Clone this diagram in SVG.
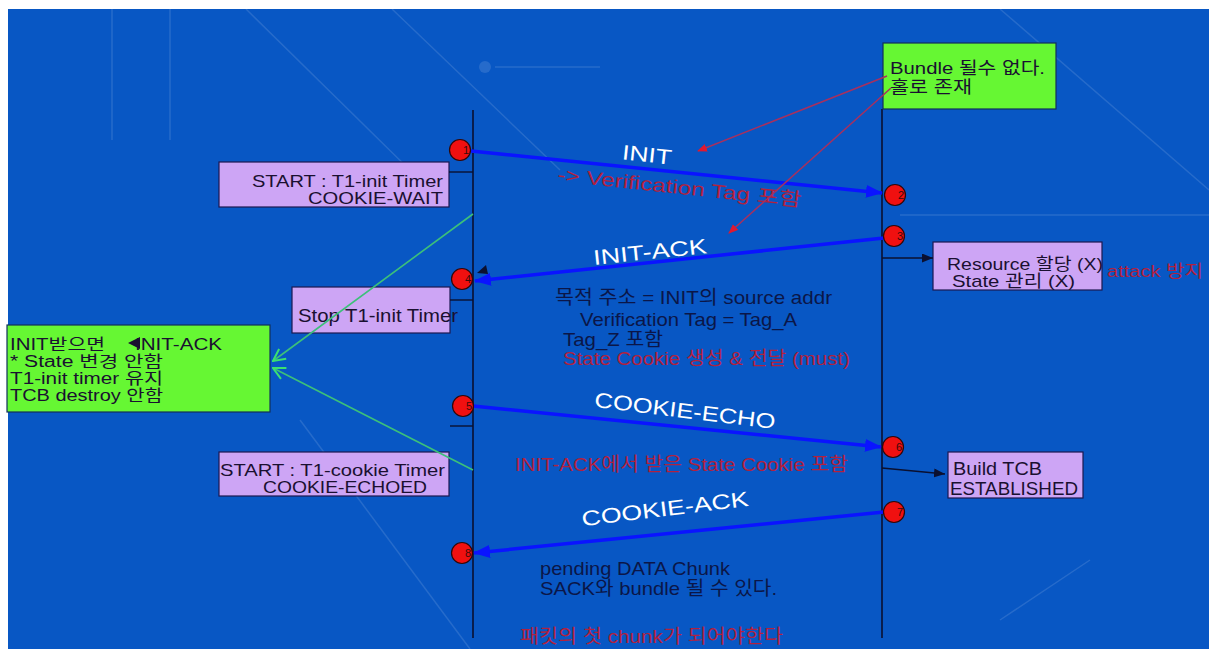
<svg xmlns="http://www.w3.org/2000/svg" width="1209" height="649" viewBox="0 0 1209 649">
<style>
  .t { font-family: "Liberation Sans", "Noto Sans CJK KR", sans-serif; font-size: 19px; }
  .s { font-size: 16px; }
  .m { font-size: 17px; }
  .box { fill: #cda5f5; stroke: #1c1850; stroke-width: 1.2; }
  .gbox { fill: #66f733; stroke: #12305a; stroke-width: 1.2; }
  .dark { fill: #1a1030; }
  .navy { fill: #0b1648; }
  .red { fill: #b2213e; }
  .white { fill: #ffffff; font-size: 21px; }
  .life { stroke: #0b1030; stroke-width: 1.6; }
  .msg { stroke: #0a14ff; stroke-width: 3.5; fill: none; marker-end: url(#blueArrow); }
  .tick { stroke: #0b1030; stroke-width: 1.4; }
  .blk { stroke: #0b1030; stroke-width: 1.4; fill: none; marker-end: url(#blkArrow); }
  .grn { stroke: #3cc07a; stroke-width: 1.6; fill: none; marker-end: url(#grnArrow); }
  .rl { stroke: #a8305e; stroke-width: 1.5; fill: none; marker-end: url(#redArrow); }
  .dot { fill: #f01010; stroke: #300808; stroke-width: 1.2; }
  .num { font-family: "Liberation Sans", sans-serif; font-size: 11px; fill: #3a0a0a; }
  .bgl { stroke: #ffffff; stroke-opacity: 0.12; stroke-width: 1.5; fill: none; }
</style>
<defs>
  <marker id="blueArrow" markerUnits="userSpaceOnUse" markerWidth="17" markerHeight="13" refX="16" refY="6.5" orient="auto">
    <path d="M0,0 L17,6.5 L0,13 z" fill="#0a14ff"/>
  </marker>
  <marker id="blkArrow" markerUnits="userSpaceOnUse" markerWidth="11" markerHeight="9" refX="11" refY="4.5" orient="auto">
    <path d="M0,0 L11,4.5 L0,9 z" fill="#0b1030"/>
  </marker>
  <marker id="grnArrow" markerUnits="userSpaceOnUse" markerWidth="14" markerHeight="14" refX="13" refY="7" orient="auto">
    <path d="M1,1 L13,7 L1,13" fill="none" stroke="#3ce070" stroke-width="2"/>
  </marker>
  <marker id="redArrow" markerUnits="userSpaceOnUse" markerWidth="10" markerHeight="8" refX="9" refY="4" orient="auto">
    <path d="M0,0 L10,4 L0,8 z" fill="#e01830"/>
  </marker>
</defs>

<!-- background -->
<rect x="0" y="0" width="1209" height="649" fill="#ffffff"/>
<rect x="8" y="9" width="1201" height="640" fill="#0857c4"/>
<g id="background-lines">
  <line class="bgl" x1="246" y1="9" x2="420" y2="180"/>
  <line class="bgl" x1="392" y1="9" x2="560" y2="170"/>
  <line class="bgl" x1="112" y1="9" x2="112" y2="140"/>
  <line class="bgl" x1="170" y1="9" x2="170" y2="140"/>
  <line class="bgl" x1="495" y1="67" x2="600" y2="67"/>
  <circle cx="485" cy="67" r="6" fill="#ffffff" fill-opacity="0.12"/>
  <line class="bgl" x1="1000" y1="9" x2="1209" y2="190"/>
  <line class="bgl" x1="300" y1="420" x2="470" y2="649"/>
  <line class="bgl" x1="900" y1="215" x2="1209" y2="215"/>
  <line class="bgl" x1="1000" y1="620" x2="1090" y2="560"/>
</g>

<!-- lifelines -->
<g id="lifelines">
  <line class="life" x1="473" y1="110" x2="473" y2="638"/>
  <line class="life" x1="882" y1="109" x2="882" y2="638"/>
</g>

<!-- nodes -->
<g id="note-bundle">
  <rect class="gbox" x="883" y="43" width="173" height="66"/>
  <text class="t m dark" x="890" y="74" textLength="155" lengthAdjust="spacingAndGlyphs">Bundle 될수 없다.</text>
  <text class="t m dark" x="890" y="93" textLength="82" lengthAdjust="spacingAndGlyphs">홀로 존재</text>
</g>

<g id="box-start-init">
  <rect class="box" x="219" y="162" width="230" height="45"/>
  <text class="t m dark" x="252" y="187" textLength="191" lengthAdjust="spacingAndGlyphs">START : T1-init Timer</text>
  <text class="t m dark" x="308" y="204" textLength="135" lengthAdjust="spacingAndGlyphs">COOKIE-WAIT</text>
</g>

<g id="box-stop-init">
  <rect class="box" x="292" y="287" width="158" height="46"/>
  <text class="t dark" x="298" y="322" textLength="160" lengthAdjust="spacingAndGlyphs">Stop T1-init Timer</text>
</g>

<g id="box-start-cookie">
  <rect class="box" x="219" y="452" width="230" height="44"/>
  <text class="t m dark" x="220" y="476" textLength="225" lengthAdjust="spacingAndGlyphs">START : T1-cookie Timer</text>
  <text class="t m dark" x="263" y="493" textLength="164" lengthAdjust="spacingAndGlyphs">COOKIE-ECHOED</text>
</g>

<g id="note-init-recv">
  <rect class="gbox" x="7" y="325" width="263" height="87"/>
  <text class="t s dark" x="10" y="350" textLength="95" lengthAdjust="spacingAndGlyphs">INIT받으면</text>
  <path d="M128,343 L140,337 L140,349 z" fill="#1a1030"/>
  <text class="t s dark" x="135" y="350" textLength="87" lengthAdjust="spacingAndGlyphs">INIT-ACK</text>
  <text class="t s dark" x="10" y="367" textLength="153" lengthAdjust="spacingAndGlyphs">* State 변경 안함</text>
  <text class="t s dark" x="10" y="384" textLength="153" lengthAdjust="spacingAndGlyphs">T1-init timer 유지</text>
  <text class="t s dark" x="10" y="401" textLength="153" lengthAdjust="spacingAndGlyphs">TCB destroy 안함</text>
</g>

<g id="box-resource">
  <rect class="box" x="933" y="242" width="169" height="48"/>
  <text class="t m dark" x="947" y="270" textLength="156" lengthAdjust="spacingAndGlyphs">Resource 할당 (X)</text>
  <text class="t m dark" x="952" y="287" textLength="123" lengthAdjust="spacingAndGlyphs">State 관리 (X)</text>
  <text class="t m red" x="1107" y="277" textLength="96" lengthAdjust="spacingAndGlyphs">attack 방지</text>
</g>

<g id="box-build-tcb">
  <rect class="box" x="948" y="452" width="135" height="46"/>
  <text class="t dark" x="953" y="475" textLength="89" lengthAdjust="spacingAndGlyphs">Build TCB</text>
  <text class="t dark" x="950" y="495" textLength="128" lengthAdjust="spacingAndGlyphs">ESTABLISHED</text>
</g>

<g id="notes-text">
  <text class="t red" x="557" y="181" transform="rotate(6 557 181)" textLength="245" lengthAdjust="spacingAndGlyphs">-&gt; Verification Tag 포함</text>
  <text class="t navy" x="555" y="304" textLength="277" lengthAdjust="spacingAndGlyphs">목적 주소 = INIT의 source addr</text>
  <text class="t navy" x="580" y="326" textLength="217" lengthAdjust="spacingAndGlyphs">Verification Tag = Tag_A</text>
  <text class="t navy" x="563" y="346" textLength="100" lengthAdjust="spacingAndGlyphs">Tag_Z 포함</text>
  <text class="t red" x="563" y="365" textLength="287" lengthAdjust="spacingAndGlyphs">State Cookie 생성 &amp; 전달 (must)</text>
  <text class="t red" x="515" y="471" textLength="333" lengthAdjust="spacingAndGlyphs">INIT-ACK에서 받은 State Cookie 포함</text>
  <text class="t navy" x="540" y="575" textLength="190" lengthAdjust="spacingAndGlyphs">pending DATA Chunk</text>
  <text class="t navy" x="540" y="595" textLength="237" lengthAdjust="spacingAndGlyphs">SACK와 bundle 될 수 있다.</text>
  <text class="t red" x="520" y="643" textLength="263" lengthAdjust="spacingAndGlyphs">패킷의 첫 chunk가 되어야한다</text>
</g>

<!-- connectors -->
<g id="connectors">
  <line class="tick" x1="449" y1="172" x2="473" y2="172"/>
  <line class="tick" x1="450" y1="300" x2="473" y2="300"/>
  <line class="tick" x1="450" y1="426" x2="473" y2="426"/>

  <line class="msg" x1="471" y1="151" x2="882" y2="193"/>
  <line class="msg" x1="884" y1="238" x2="475" y2="281"/>
  <line class="msg" x1="473" y1="406" x2="881" y2="447"/>
  <line class="msg" x1="884" y1="512" x2="474" y2="553"/>

  <line class="blk" x1="882" y1="258" x2="933" y2="258"/>
  <line class="blk" x1="882" y1="468" x2="945" y2="474"/>
  <path d="M477,273 L486,265 L488,274 z" fill="#0b1030"/>

  <line class="grn" x1="473" y1="214" x2="273" y2="361"/>
  <line class="grn" x1="473" y1="470" x2="273" y2="368"/>

  <line class="rl" x1="887" y1="76" x2="698" y2="151"/>
  <line class="rl" x1="891" y1="88" x2="729" y2="233"/>
</g>

<g id="labels">
  <text class="t white" x="647" y="162" text-anchor="middle" transform="rotate(6 647 155)" textLength="50" lengthAdjust="spacingAndGlyphs">INIT</text>
  <text class="t white" x="650" y="259" text-anchor="middle" transform="rotate(-6 650 252)" textLength="114" lengthAdjust="spacingAndGlyphs">INIT-ACK</text>
  <text class="t white" x="685" y="418" text-anchor="middle" transform="rotate(7 685 411)" textLength="182" lengthAdjust="spacingAndGlyphs">COOKIE-ECHO</text>
  <text class="t white" x="665" y="516" text-anchor="middle" transform="rotate(-7 665 509)" textLength="168" lengthAdjust="spacingAndGlyphs">COOKIE-ACK</text>
</g>

<!-- event markers -->
<g id="event-1"><circle class="dot" cx="460" cy="150" r="10.5"/><text class="num" x="463" y="154">1</text></g>
<g id="event-2"><circle class="dot" cx="895" cy="195" r="10.5"/><text class="num" x="898" y="199">2</text></g>
<g id="event-3"><circle class="dot" cx="894" cy="236" r="10.5"/><text class="num" x="897" y="240">3</text></g>
<g id="event-4"><circle class="dot" cx="462" cy="279" r="10.5"/><text class="num" x="465" y="283">4</text></g>
<g id="event-5"><circle class="dot" cx="463" cy="406" r="10.5"/><text class="num" x="466" y="410">5</text></g>
<g id="event-6"><circle class="dot" cx="893" cy="447" r="10.5"/><text class="num" x="896" y="451">6</text></g>
<g id="event-7"><circle class="dot" cx="894" cy="512" r="10.5"/><text class="num" x="897" y="516">7</text></g>
<g id="event-8"><circle class="dot" cx="462" cy="553" r="10.5"/><text class="num" x="465" y="557">8</text></g>
</svg>
